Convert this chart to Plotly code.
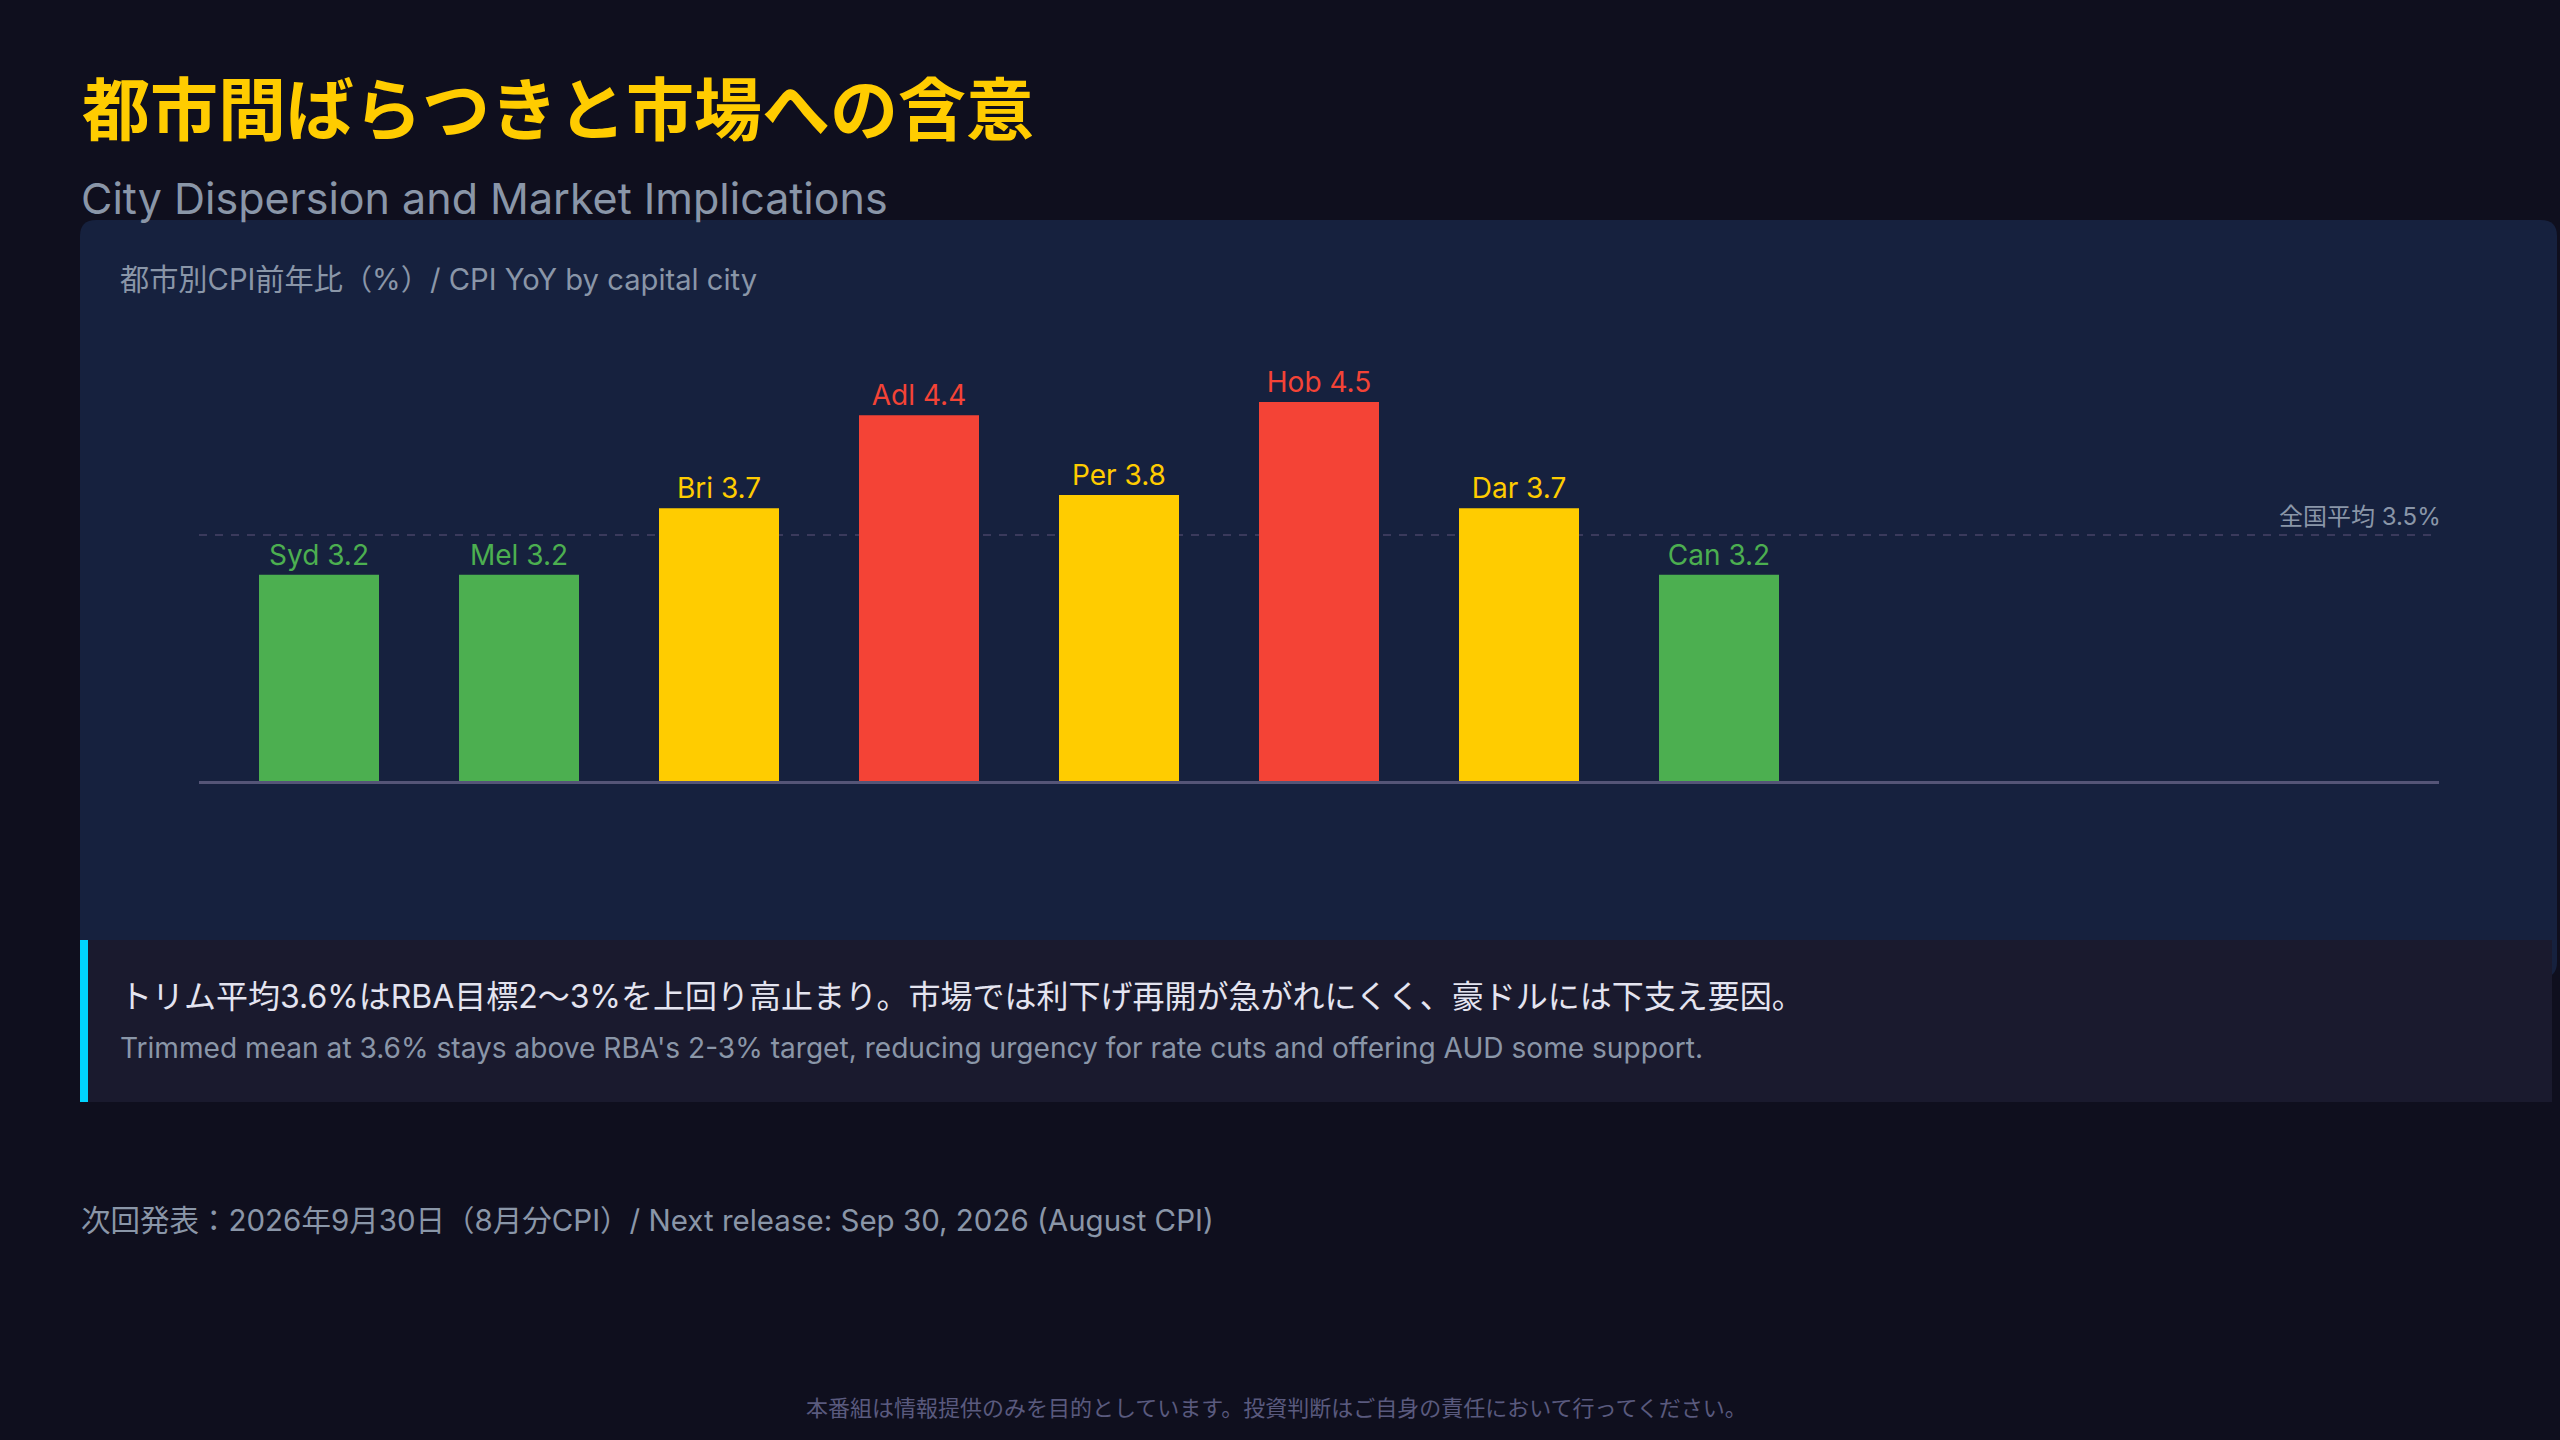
import plotly.graph_objects as go

# ---------------- data ----------------
cities = ["Syd", "Mel", "Bri", "Adl", "Per", "Hob", "Dar", "Can"]
cpi_yoy = [3.2, 3.2, 3.7, 4.4, 3.8, 4.5, 3.7, 3.2]
national_avg = 3.5

title_ja = "都市間ばらつきと市場への含意"
title_en = "City Dispersion and Market Implications"
panel_title = "都市別CPI前年比（%）/ CPI YoY by capital city"
avg_label = "全国平均 3.5%"
note_ja = "トリム平均3.6%はRBA目標2〜3%を上回り高止まり。市場では利下げ再開が急がれにくく、豪ドルには下支え要因。"
note_en = "Trimmed mean at 3.6% stays above RBA's 2-3% target, reducing urgency for rate cuts and offering AUD some support."
next_release = "次回発表：2026年9月30日（8月分CPI）/ Next release: Sep 30, 2026 (August CPI)"
disclaimer = "本番組は情報提供のみを目的としています。投資判断はご自身の責任において行ってください。"

# ---------------- style ----------------
W, H = 2560, 1440
BG = "#0f0f1e"
PANEL = "#16213e"
CALLOUT = "#1a1a2e"
CYAN = "#00d4ff"
GOLD = "#ffcc00"
GREEN = "#4caf50"
RED = "#f44336"
GREY = "#8a96a8"
DIM = "#5a5a7e"
SANS = "Inter, Noto Sans CJK JP, sans-serif"
CJK = "Noto Sans CJK JP, sans-serif"


def band_color(v):
    if v >= 4.0:
        return RED
    if v > national_avg:
        return GOLD
    return GREEN


colors = [band_color(v) for v in cpi_yoy]


def px(x):
    return x / W


def py(y):
    return 1 - y / H


def rrect(x0, y0, x1, y1, r):
    rx, ry = r / W, r / H
    X0, X1, Y0, Y1 = px(x0), px(x1), py(y0), py(y1)
    return (f"M {X0+rx},{Y0} L {X1-rx},{Y0} Q {X1},{Y0} {X1},{Y0-ry} "
            f"L {X1},{Y1+ry} Q {X1},{Y1} {X1-rx},{Y1} L {X0+rx},{Y1} "
            f"Q {X0},{Y1} {X0},{Y1+ry} L {X0},{Y0-ry} Q {X0},{Y0} {X0+rx},{Y0} Z")


# plot geometry (pixels)
plot_left, plot_right = 199, 2439
plot_bottom = 781
y_min, y_max = 1.65, 5.0
px_per_unit = 133
plot_top = plot_bottom - px_per_unit * (y_max - y_min)

fig = go.Figure()
fig.add_trace(go.Bar(
    x=cities,
    y=cpi_yoy,
    marker=dict(color=colors, line=dict(width=0)),
    texttemplate="%{x} %{y:.1f}",
    textposition="outside",
    textfont=dict(family=SANS, size=28, color=colors),
    cliponaxis=False,
    hoverinfo="skip",
))

shapes = [
    dict(type="path", xref="paper", yref="paper", path=rrect(80, 220, 2557, 978, 16),
         fillcolor=PANEL, line=dict(width=0), layer="below"),
    dict(type="rect", xref="paper", yref="paper", x0=px(80), x1=px(2552), y0=py(940), y1=py(1102),
         fillcolor=CALLOUT, line=dict(width=0), layer="below"),
    dict(type="rect", xref="paper", yref="paper", x0=px(80), x1=px(88), y0=py(940), y1=py(1102),
         fillcolor=CYAN, line=dict(width=0), layer="below"),
    dict(type="line", xref="x domain", yref="y", x0=0, x1=0.997, y0=national_avg, y1=national_avg,
         line=dict(color="#3a3a5c", width=2, dash="8px,8px"), layer="below"),
]

annotations = [
    dict(text=title_ja, xref="paper", yref="paper", x=px(80), y=py(106), xanchor="left", yanchor="middle",
         showarrow=False, font=dict(family=CJK, size=68, color=GOLD, weight="bold")),
    dict(text=title_en, xref="paper", yref="paper", x=px(79), y=py(198), xanchor="left", yanchor="middle",
         showarrow=False, font=dict(family=SANS, size=43, color=GREY)),
    dict(text=panel_title, xref="paper", yref="paper", x=px(118), y=py(280), xanchor="left", yanchor="middle",
         showarrow=False, font=dict(family=SANS, size=29.2, color=GREY)),
    dict(text=avg_label, xref="x domain", yref="y", x=1, y=national_avg, xanchor="right", yanchor="bottom",
         xshift=4, yshift=2, showarrow=False, font=dict(family=SANS, size=24, color=GREY)),
    dict(text=note_ja, xref="paper", yref="paper", x=px(118), y=py(996), xanchor="left", yanchor="middle",
         showarrow=False, font=dict(family=SANS, size=32, color="#e4e4f0")),
    dict(text=note_en, xref="paper", yref="paper", x=px(118), y=py(1048), xanchor="left", yanchor="middle",
         showarrow=False, font=dict(family=SANS, size=28.1, color=GREY)),
    dict(text=next_release, xref="paper", yref="paper", x=px(79), y=py(1220), xanchor="left", yanchor="middle",
         showarrow=False, font=dict(family=SANS, size=29.5, color=GREY)),
    dict(text=disclaimer, xref="paper", yref="paper", x=px(1276), y=py(1408), xanchor="center", yanchor="middle",
         showarrow=False, font=dict(family=SANS, size=22, color=DIM)),
]

fig.update_layout(
    width=W, height=H, autosize=False,
    margin=dict(l=0, r=0, t=0, b=0, pad=0),
    paper_bgcolor=BG, plot_bgcolor="rgba(0,0,0,0)",
    showlegend=False,
    bargap=0.4,
    shapes=shapes,
    annotations=annotations,
    xaxis=dict(domain=[px(plot_left), px(plot_right)], type="category", range=[-0.6, 10.6],
               showticklabels=False, ticks="", showgrid=False, zeroline=False,
               showline=True, linecolor="#555577", linewidth=3, fixedrange=True),
    yaxis=dict(domain=[py(plot_bottom), py(plot_top)], range=[y_min, y_max],
               showticklabels=False, ticks="", showgrid=False, zeroline=False,
               showline=False, fixedrange=True),
)

fig.write_html("out.html", config={"displayModeBar": False},
               post_script="document.body.style.margin='0';document.body.style.overflow='hidden';")
